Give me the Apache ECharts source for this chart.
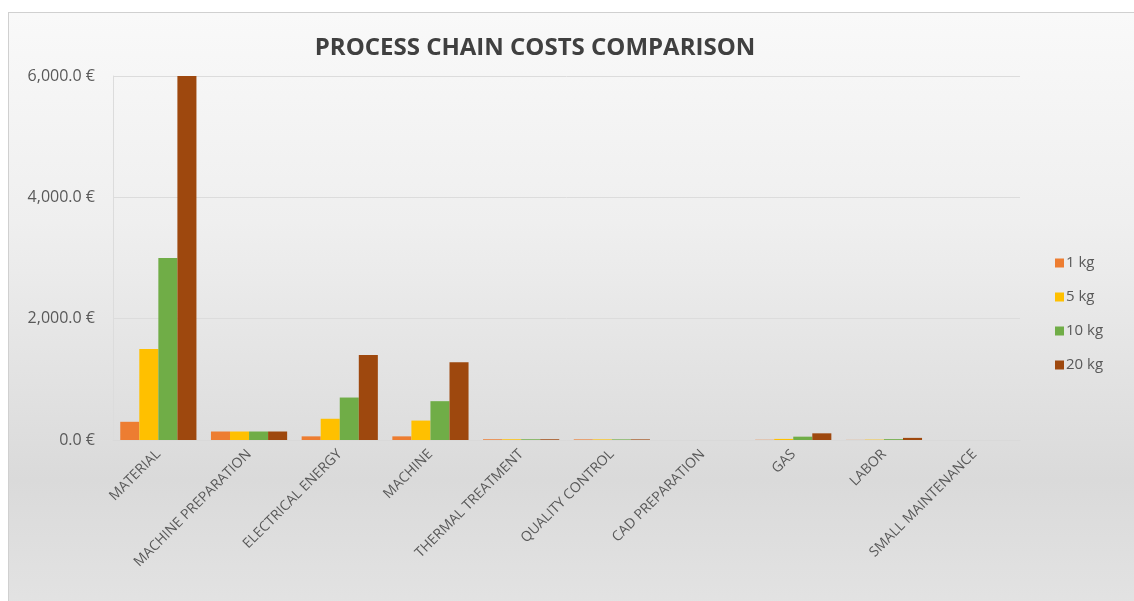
<!DOCTYPE html>
<html>
<head>
<meta charset="utf-8">
<script src="https://cdn.jsdelivr.net/npm/echarts@6/dist/echarts.min.js"></script>
<style>
  html, body { margin: 0; padding: 0; background: #ffffff; }
  #bg { position: absolute; left: 8px; top: 12px; width: 1140px; height: 600px;
        border: 1px solid #d0d0d0; box-sizing: border-box;
        background: linear-gradient(to bottom, #f9f9f9 0%, #efefef 35%, #dadada 78%, #e3e3e3 100%); }
  #chart { position: absolute; left: 0; top: 0; width: 1134px; height: 601px; }
</style>
</head>
<body>
<div id="bg"></div>
<div id="chart"></div>
<script>
const categories = ['MATERIAL', 'MACHINE PREPARATION', 'ELECTRICAL ENERGY', 'MACHINE', 'THERMAL TREATMENT', 'QUALITY CONTROL', 'CAD PREPARATION', 'GAS', 'LABOR', 'SMALL MAINTENANCE'];
const seriesNames = ['1 kg', '5 kg', '10 kg', '20 kg'];
const kg1  = [300, 140, 60, 60, 12, 10, 0, 4, 2, 0];
const kg5  = [1500, 140, 350, 320, 12, 10, 0, 18, 6, 0];
const kg10 = [3000, 140, 700, 640, 12, 10, 0, 55, 14, 0];
const kg20 = [6000, 140, 1400, 1280, 12, 10, 0, 110, 35, 0];
const yTicks = [0, 2000, 4000, 6000];
const colors = ['#ED7D31', '#FFC000', '#70AD47', '#9E480E'];

function fmt(v) {
  const s = Math.round(v).toString().replace(/\B(?=(\d{3})+(?!\d))/g, ',');
  return s + '.0 €';
}

const chart = echarts.init(document.getElementById('chart'), null, { renderer: 'canvas' });
const data = [kg1, kg5, kg10, kg20];
chart.setOption({
  backgroundColor: 'transparent',
  animation: false,
  color: colors,
  title: {
    text: 'PROCESS CHAIN COSTS COMPARISON',
    left: 530, top: 31, textAlign: 'center',
    textStyle: { fontFamily: 'Open Sans', fontWeight: 'bold', fontSize: 24, color: '#404040' }
  },
  legend: {
    orient: 'vertical', left: 1050, top: 250,
    itemWidth: 9, itemHeight: 9, itemGap: 18,
    icon: 'rect',
    textStyle: { fontFamily: 'Open Sans', fontSize: 15, color: '#595959', lineHeight: 16, padding: [0, 0, 0, -3] },
    data: seriesNames
  },
  grid: { left: 113, right: 114, top: 76, bottom: 161, containLabel: false },
  xAxis: {
    type: 'category', data: categories,
    axisLine: { show: true, lineStyle: { color: '#d9d9d9', width: 1 } },
    axisTick: { show: false },
    axisLabel: { interval: 0, rotate: 45, margin: 12, fontFamily: 'Open Sans', fontSize: 14, color: '#595959' }
  },
  yAxis: {
    type: 'value', min: 0, max: 6000, interval: 2000,
    axisLine: { show: true, lineStyle: { color: '#dcdcdc', width: 1 } },
    axisTick: { show: false },
    splitLine: { show: true, lineStyle: { color: '#dcdcdc', width: 1 } },
    axisLabel: { margin: 18, fontFamily: 'Open Sans', fontSize: 16, color: '#595959',
      formatter: function (v) { return yTicks.indexOf(v) >= 0 ? fmt(v) : ''; } }
  },
  series: seriesNames.map(function (name, i) {
    return { name: name, type: 'bar', data: data[i], barGap: '0%', barCategoryGap: '16%',
             itemStyle: { color: colors[i] } };
  })
});
</script>
</body>
</html>
